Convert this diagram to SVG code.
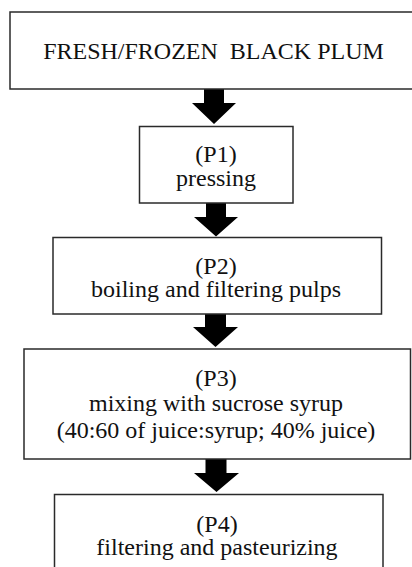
<svg xmlns="http://www.w3.org/2000/svg" width="412" height="567" viewBox="0 0 412 567">
<style>
.box{fill:#fff;stroke:#2a2a2a;stroke-width:1.5}
.arr{fill:#000}
</style>
<rect x="0" y="0" width="412" height="567" fill="#fff"/>
<g id="connectors">
<polygon class="arr" points="204,89 224,89 224,103 236,103 214,124 192,103 204,103"/>
<polygon class="arr" points="206,203 226,203 226,217 238,217 216,236.5 194,217 206,217"/>
<polygon class="arr" points="205,314 226,314 226,327 238,327 215.5,347 193,327 205,327"/>
<polygon class="arr" points="205.5,459 226.5,459 226.5,473 239,473 216.5,492 194,473 205.5,473"/>
</g>
<g font-family="Liberation Serif, Times New Roman, serif" font-size="24" fill="#111" text-anchor="middle">
<g id="start">
<rect class="box" x="10" y="12" width="410" height="77"/>
<text x="213.5" y="59" xml:space="preserve">FRESH/FROZEN  BLACK PLUM</text>
</g>
<g id="p1">
<rect class="box" x="139.5" y="126.5" width="153.5" height="76.5"/>
<text x="216" y="162">(P1)</text>
<text x="216" y="185.5">pressing</text>
</g>
<g id="p2">
<rect class="box" x="53" y="237.5" width="328.5" height="76.5"/>
<text x="216" y="273.5">(P2)</text>
<text x="216" y="297">boiling and filtering pulps</text>
</g>
<g id="p3">
<rect class="box" x="24" y="349" width="386.5" height="110"/>
<text x="216" y="385.5">(P3)</text>
<text x="216" y="411">mixing with sucrose syrup</text>
<text x="216" y="437.5">(40:60 of juice:syrup; 40% juice)</text>
</g>
<g id="p4">
<rect class="box" x="54.5" y="494.5" width="328.5" height="90"/>
<text x="217" y="531.5">(P4)</text>
<text x="217" y="555">filtering and pasteurizing</text>
</g>
</g>
</svg>
